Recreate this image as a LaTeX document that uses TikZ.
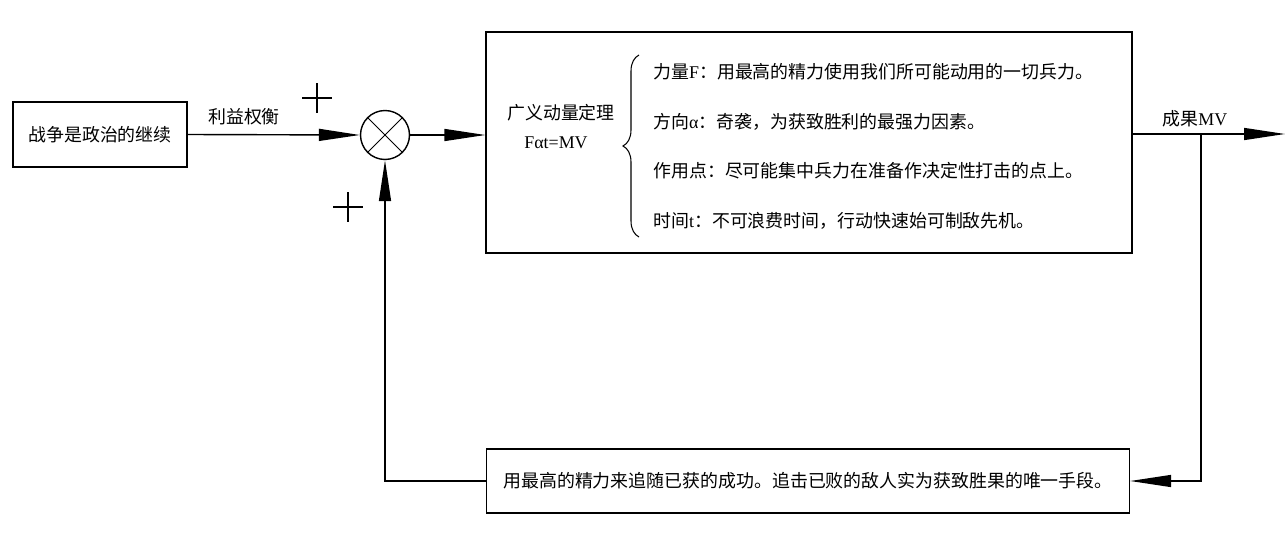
\documentclass[tikz,border=0pt]{standalone}
\usepackage{fontspec}
\setmainfont{Liberation Serif}
\newfontfamily\cjk{Noto Sans CJK SC}
\usetikzlibrary{arrows.meta,decorations.pathreplacing}

\tikzset{
  block/.style={draw,rectangle,line width=0.8pt,inner sep=0pt},
  sumnode/.style={draw,circle,line width=0.8pt,minimum size=0.98cm,inner sep=0pt},
  flow/.style={line width=0.8pt,-{Triangle[length=0.82cm,width=0.24cm]}}}

\begin{document}
\begin{tikzpicture}
[x=0.02cm,y=-0.02cm,
 every node/.style={font=\cjk\fontsize{10.2pt}{12pt}\selectfont},
 rowtext/.style={anchor=west,inner sep=0pt}]
\useasboundingbox (0,0) rectangle (1286,534);

\node (cause) at (100,134.5) [block, minimum width=3.48cm, minimum height=1.3cm] {战争是政治的继续};
\node (sum) at (385,135) [sumnode] {};
\draw [line width=0.6pt] (sum.45) -- (sum.225) (sum.135) -- (sum.315);
\node (law) at (809,142.5) [block, minimum width=12.92cm, minimum height=4.42cm] {};
\node (remedy) at (808,481) [block, minimum width=12.86cm, minimum height=1.28cm] {用最高的精力来追随已获的成功。追击已败的敌人实为获致胜果的唯一手段。};

% inside the law box
\node (lawname) at (561,113) {广义动量定理};
\node (lawformula) at (556,143) {\rmfamily Fαt=MV};
\coordinate (bracetop) at (639,55);
\coordinate (bracebot) at (639,237);
\draw [line width=0.6pt, decorate, decoration={brace, amplitude=0.32cm}] (bracebot) -- (bracetop);
\node (force) at (653,72) [rowtext] {力量{\rmfamily F}：用最高的精力使用我们所可能动用的一切兵力。};
\node (direction) at (653,122) [rowtext] {方向{\rmfamily α}：奇袭，为获致胜利的最强力因素。};
\node (point) at (653,171) [rowtext] {作用点：尽可能集中兵力在准备作决定性打击的点上。};
\node (time) at (653,221) [rowtext] {时间{\rmfamily t}：不可浪费时间，行动快速始可制敌先机。};

% signs at the summing point
\coordinate (plusin) at (317,98);
\coordinate (plusback) at (348,207);
\draw [line width=0.7pt] (plusin) ++(-15,0) -- ++(30,0) (plusin) ++(0,-15) -- ++(0,30);
\draw [line width=0.7pt] (plusback) ++(-15,0) -- ++(30,0) (plusback) ++(0,-15) -- ++(0,30);

\node (interest) at (244,117) {利益权衡};
\coordinate (result) at (1285,134);
\coordinate (branch) at (1201,134);
\node (resultlabel) at (1195,119) {成果{\rmfamily MV}};

\draw [flow] (cause.east) -- (sum.west);
\draw [flow] (sum.east) -- (sum.east -| law.west);
\draw [flow] (law.east |- result) -- (result);
\draw [flow] (branch) |- (remedy.east);
\draw [flow] (remedy.west) -| (sum.south);
\end{tikzpicture}
\end{document}
